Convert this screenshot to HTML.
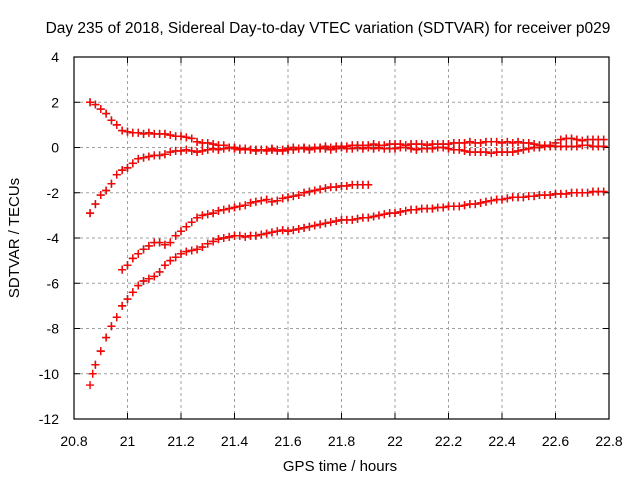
<!DOCTYPE html>
<html><head><meta charset="utf-8"><style>
html,body{margin:0;padding:0;background:#fff;}
svg{display:block;font-family:"Liberation Sans",sans-serif;}
</style></head><body>
<svg id="chart" width="640" height="480" viewBox="0 0 640 480">
<rect width="640" height="480" fill="#fff"/>
<g id="grid"></g>
<g id="ticks"></g>
<g id="marks"></g>
<rect x="74" y="57" width="535" height="362" fill="none" stroke="#000" stroke-width="1.2"/>
<text x="328" y="33" text-anchor="middle" font-size="15.5">Day 235 of 2018, Sidereal Day-to-day VTEC variation (SDTVAR) for receiver p029</text>
<text x="340" y="471" text-anchor="middle" font-size="15">GPS time / hours</text>
<text transform="translate(19,238) rotate(-90)" text-anchor="middle" font-size="15">SDTVAR / TECUs</text>
</svg>
<script>
const xTicks=[20.8,21,21.2,21.4,21.6,21.8,22,22.2,22.4,22.6,22.8];
const xTickLabels=["20.8","21","21.2","21.4","21.6","21.8","22","22.2","22.4","22.6","22.8"];
const yTicks=[4,2,0,-2,-4,-6,-8,-10,-12];
const yTickLabels=["4","2","0","-2","-4","-6","-8","-10","-12"];
const step=0.02;
const startA=20.86;
const seriesA=[2.0,1.9,1.7,1.5,1.2,1.0,0.75,0.7,0.65,0.65,0.6,0.65,0.6,0.6,0.6,0.55,0.5,0.5,0.45,0.4,0.25,0.2,0.2,0.15,0.1,0.1,0.0,0.0,-0.05,-0.1,-0.1,-0.1,-0.1,-0.15,-0.1,-0.15,-0.15,-0.1,-0.1,-0.05,-0.05,-0.1,-0.05,-0.05,-0.05,-0.1,-0.05,0.0,-0.05,-0.05,0.0,-0.05,0.0,-0.05,0.0,-0.05,-0.05,-0.05,0.0,0.0,-0.05,-0.1,-0.05,-0.05,-0.05,0.0,0.0,-0.05,-0.1,-0.1,-0.15,-0.2,-0.2,-0.2,-0.2,-0.25,-0.2,-0.2,-0.2,-0.2,-0.15,-0.1,-0.05,0.0,0.0,0.05,0.1,0.2,0.35,0.4,0.4,0.35,0.3,0.35,0.35,0.35,0.35];
const startB=20.86;
const seriesB=[-2.9,-2.5,-2.1,-1.9,-1.6,-1.2,-1.0,-0.9,-0.7,-0.5,-0.45,-0.4,-0.35,-0.35,-0.3,-0.2,-0.15,-0.15,-0.1,-0.15,-0.2,-0.15,-0.1,-0.05,-0.1,-0.05,0.0,-0.05,-0.1,-0.05,-0.1,-0.15,-0.1,-0.1,-0.05,-0.1,-0.1,-0.05,0.0,-0.05,0.0,-0.05,0.0,0.0,0.05,0.0,0.05,0.05,0.05,0.1,0.1,0.1,0.1,0.15,0.1,0.1,0.15,0.15,0.15,0.1,0.15,0.15,0.15,0.1,0.15,0.15,0.15,0.15,0.2,0.2,0.2,0.25,0.2,0.2,0.25,0.25,0.25,0.2,0.25,0.2,0.25,0.2,0.2,0.15,0.1,0.1,0.05,0.05,0.05,0.05,0.05,0.05,0.1,0.1,0.05,0.05,0.05];
const startC=20.98;
const seriesC=[-5.4,-5.2,-4.9,-4.7,-4.5,-4.35,-4.2,-4.2,-4.3,-4.2,-3.9,-3.7,-3.5,-3.3,-3.1,-3.0,-2.95,-2.9,-2.8,-2.75,-2.7,-2.65,-2.6,-2.55,-2.45,-2.4,-2.35,-2.3,-2.4,-2.35,-2.25,-2.2,-2.15,-2.1,-2.0,-1.95,-1.9,-1.85,-1.8,-1.75,-1.75,-1.7,-1.7,-1.65,-1.65,-1.65,-1.65];
const startD=20.88;
const seriesD=[-9.6,-9.0,-8.4,-7.9,-7.5,-7.0,-6.7,-6.4,-6.1,-5.9,-5.8,-5.7,-5.5,-5.2,-5.0,-4.85,-4.7,-4.6,-4.55,-4.5,-4.4,-4.25,-4.15,-4.05,-4.0,-3.95,-3.9,-3.9,-3.95,-3.9,-3.9,-3.85,-3.8,-3.75,-3.7,-3.65,-3.7,-3.65,-3.6,-3.55,-3.5,-3.45,-3.4,-3.35,-3.3,-3.25,-3.2,-3.2,-3.2,-3.15,-3.1,-3.1,-3.05,-3.0,-2.95,-2.9,-2.9,-2.85,-2.8,-2.75,-2.75,-2.7,-2.7,-2.7,-2.65,-2.65,-2.6,-2.6,-2.6,-2.55,-2.5,-2.5,-2.45,-2.4,-2.35,-2.3,-2.3,-2.25,-2.2,-2.2,-2.2,-2.15,-2.15,-2.1,-2.1,-2.1,-2.05,-2.05,-2.05,-2.0,-2.0,-2.0,-2.0,-1.95,-1.95,-1.95];
const extraDTimes=[20.86,20.87];
const extraDValues=[-10.5,-10.0];

const NS="http://www.w3.org/2000/svg";
const L=74,R=609,T=57,B=419;
function xs(v){return L+(v-20.8)/2.0*(R-L);}
function ys(v){return T+(4-v)/16*(B-T);}
function mk(tag,attrs,parent){const e=document.createElementNS(NS,tag);for(const k in attrs)e.setAttribute(k,attrs[k]);parent.appendChild(e);return e;}
const grid=document.getElementById('grid'),ticks=document.getElementById('ticks'),marks=document.getElementById('marks');
xTicks.forEach((t,i)=>{
  const x=xs(t);
  if(i>0&&i<xTicks.length-1){const g=mk('line',{x1:x,x2:x,y1:T,y2:B,stroke:'#a0a0a0','stroke-dasharray':'3,3'},grid);
  
  }
  mk('line',{x1:x,x2:x,y1:B,y2:B-6,stroke:'#000'},ticks);
  mk('line',{x1:x,x2:x,y1:T,y2:T+6,stroke:'#000'},ticks);
  const tx=mk('text',{x:x,y:B+27,'text-anchor':'middle','font-size':'14'},ticks);
  tx.textContent=xTickLabels[i];
  
  
});
yTicks.forEach((t,i)=>{
  const y=ys(t);
  if(i>0&&i<yTicks.length-1){const g=mk('line',{x1:L,x2:R,y1:y,y2:y,stroke:'#a0a0a0','stroke-dasharray':'3,3'},grid);
  
  }
  mk('line',{x1:L,x2:L+6,y1:y,y2:y,stroke:'#000'},ticks);
  mk('line',{x1:R,x2:R-6,y1:y,y2:y,stroke:'#000'},ticks);
  const tx=mk('text',{x:L-15,y:y+5,'text-anchor':'end','font-size':'14'},ticks);
  tx.textContent=yTickLabels[i];
  
  
});
function plus(t,v,color,name){
  const x=xs(t),y=ys(v);
  const p=mk('path',{d:`M${x-4},${y}H${x+4}M${x},${y-4}V${y+4}`,stroke:color,'stroke-width':'1.4',fill:'none'},marks);
  
  
}
function series(start,vals,name){
  vals.forEach((v,i)=>{plus(start+i*step,v,'#333',name+'-black');});
  vals.forEach((v,i)=>{plus(start+i*step,v,'#ff0000',name);});
}
series(startA,seriesA,'series-a-point');
series(startB,seriesB,'series-b-point');
series(startC,seriesC,'series-c-point');
series(startD,seriesD,'series-d-point');
extraDTimes.forEach((t,i)=>plus(t,extraDValues[i],'#ff0000','series-d-point'));
</script>
</body></html>
